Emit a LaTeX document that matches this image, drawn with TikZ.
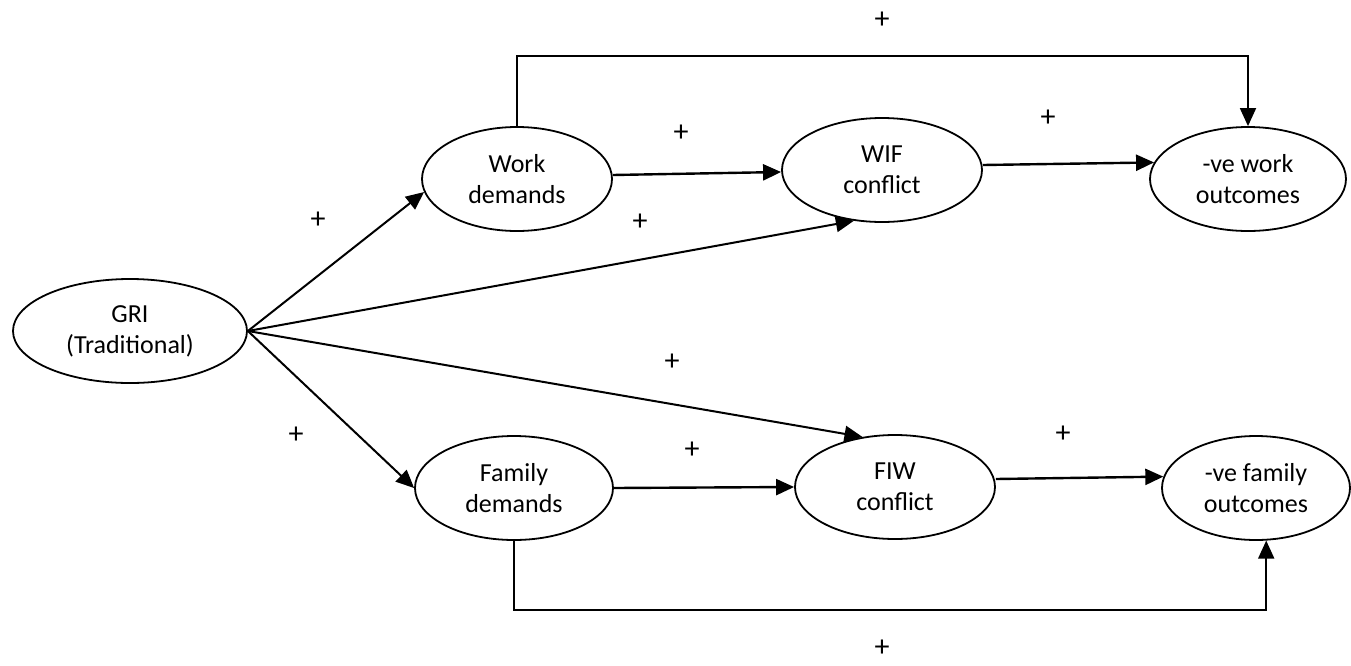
\documentclass[tikz,border=0pt]{standalone}
\usepackage{fontspec}
\setmainfont{Carlito}
\usetikzlibrary{shapes.geometric,arrows.meta}

\begin{document}
\begin{tikzpicture}[x=0.5pt,y=-0.5pt,
        var/.style={draw,ellipse,line width=0.9pt,inner sep=0pt,minimum height=52pt,
            align=center,font=\fontsize{13}{15.5}\selectfont},
        arr/.style={-{Triangle[length=9pt,width=8pt]},line width=1pt},
        sign/.style={inner sep=0pt,font=\fontsize{15}{15}\selectfont}]
        \useasboundingbox (0,0) rectangle (1351,665);
        % variables
        \node[var,minimum width=117pt] (gri)   at (130,331)  {GRI\\(Traditional)};
        \node[var,minimum width=95pt]  (workd) at (517,179)  {Work\\demands};
        \node[var,minimum width=100pt] (wif)   at (882,170)  {WIF\\conflict};
        \node[var,minimum width=98pt]  (vwork) at (1248,179) {-ve work\\outcomes};
        \node[var,minimum width=99pt]  (famd)  at (514,488)  {Family\\demands};
        \node[var,minimum width=100pt] (fiw)   at (895,487)  {FIW\\conflict};
        \node[var,minimum width=94pt]  (vfam)  at (1256,488) {-ve family\\outcomes};
        % paths
        \draw[arr] (gri.east) -- (workd.188);
        \draw[arr] (gri.east) -- (wif.241);
        \draw[arr] (gri.east) -- (fiw.123);
        \draw[arr] (gri.east) -- (famd.west);
        \draw[arr,line width=1.2pt] ([yshift=2pt]workd.east) -- ([yshift=-1pt]wif.west);
        \draw[arr,line width=1.2pt] ([yshift=2.5pt]wif.east) -- (vwork.170);
        \draw[arr,line width=1.2pt] (famd.east) -- (fiw.west);
        \draw[arr,line width=1.2pt] ([yshift=4pt]fiw.east) -- (vfam.173);
        \draw[arr,line width=0.9pt] (workd.north) -- ++(0,-70) -| (vwork.north);
        \draw[arr,line width=0.9pt] (famd.south) -- ++(0,69) -| (vfam.281);
        % signs
        \foreach \x/\y [count=\i] in {882/20,681/133,1048/118,318/220,640/222,
                672/362,296/435,692/450,1063/434,882/648} {
            \node[sign] (plus\i) at (\x,\y) {+};
        }
\end{tikzpicture}
\end{document}
